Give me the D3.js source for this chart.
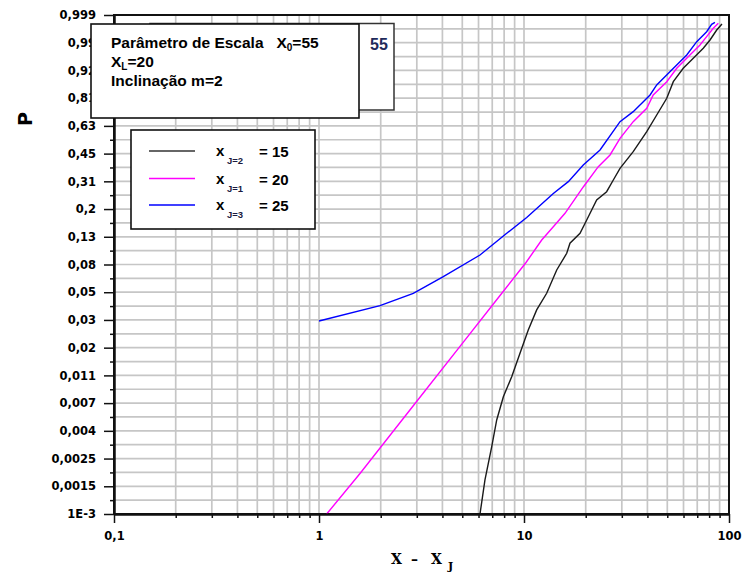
<!DOCTYPE html>
<html>
<head>
<meta charset="utf-8">
<script src="https://cdn.jsdelivr.net/npm/d3@7"></script>
<style>
  body { margin: 0; background: #fff; }
  svg { display: block; }
</style>
</head>
<body>
<svg id="chart" width="746" height="575"></svg>
<script>
// Weibull probability plot: P against (x − x_J), three shifts of the origin

// series: x_J = 15 (black)
const blackX = [6.10, 6.45, 6.96, 7.36, 7.93, 8.71, 9.56, 10.49, 11.53, 12.9, 14.44, 16.16, 16.76, 18.76, 20.23, 22.62, 25.3, 27.27, 29.4, 34.1, 39.7, 44.4, 49.7, 53.5, 59.8, 66.95, 74.9, 80.8, 87.1, 92.4];
const blackP = [0.001, 0.00183, 0.00329, 0.00528, 0.00796, 0.01133, 0.0171, 0.0257, 0.0365, 0.0487, 0.0727, 0.0964, 0.1141, 0.1346, 0.1671, 0.2295, 0.2607, 0.3103, 0.3669, 0.4585, 0.5828, 0.6911, 0.7938, 0.880, 0.9319, 0.9596, 0.97828, 0.98818, 0.99499, 0.99723];

// series: x_J = 20 (magenta)
const pinkX = [1.09, 1.585, 3.0, 5.06, 7.64, 10.23, 12.2, 13.9, 15.85, 19.46, 23.04, 26.28, 29.4, 34.1, 39.7, 42.7, 49.7, 55.6, 64.5, 72.2, 77.8, 83.8, 88.7];
const pinkP = [0.001, 0.00205, 0.00735, 0.0208, 0.0469, 0.0825, 0.1204, 0.1499, 0.1861, 0.2799, 0.3751, 0.4393, 0.5405, 0.648, 0.7337, 0.8126, 0.880, 0.9319, 0.9666, 0.9828, 0.99095, 0.99574, 0.99743];

// series: x_J = 25 (blue)
const blueX = [1.0, 1.984, 2.884, 4.04, 6.10, 7.93, 10.31, 13.9, 16.45, 19.46, 23.49, 29.4, 34.1, 41.2, 44.4, 51.5, 62.2, 69.6, 77.8, 82.3, 85.4];
const blueP = [0.0301, 0.0393, 0.0487, 0.0648, 0.0937, 0.1287, 0.174, 0.2537, 0.3028, 0.384, 0.4685, 0.648, 0.7124, 0.8126, 0.8647, 0.9204, 0.9666, 0.9865, 0.99414, 0.99715, 0.99769];

// axis ticks
const xTickValues = [0.1, 1, 10, 100];
const xTickLabels = ["0,1", "1", "10", "100"];
const pRange = [0.001, 0.999];
const pTickLabels = ["1E-3", "0,0015", "0,0025", "0,004", "0,007", "0,011", "0,02", "0,03", "0,05", "0,08",
                     "0,13", "0,2", "0,31", "0,45", "0,63", "0,81", "0,92", "0,99", "0,999"];

// legend entries
const legendNames = ["J=2", "J=1", "J=3"];
const legendValues = ["15", "20", "25"];
const legendColors = ["#333333", "#ff00ff", "#0000ff"];

// ------------------------------------------------------------------
const svg = d3.select("#chart");
const L = 114, R = 729, T = 15, B = 514;

// Weibull transform of the probability axis
const weib = p => Math.log(-Math.log(1 - p));

const x = d3.scaleLog().domain([0.1, 100]).range([L, R]);
const y = d3.scaleLinear().domain([weib(pRange[0]), weib(pRange[1])]).range([B, T]);

const nT = pTickLabels.length - 1;
const t0 = weib(pRange[0]), t1 = weib(pRange[1]);
const majorT = d3.range(nT + 1).map(k => t0 + (t1 - t0) * k / nT);
const minorT = d3.range(nT).map(k => t0 + (t1 - t0) * (k + 0.5) / nT);

const minorX = [];
[0.1, 1, 10].forEach(d => { for (let m = 2; m <= 9; m++) minorX.push(d * m); });

// grid
const grid = svg.append("g").attr("stroke", "#c6c6c6").attr("stroke-width", 1.7);
grid.selectAll("line.h").data(majorT.concat(minorT)).join("line")
  .attr("x1", L).attr("x2", R).attr("y1", d => y(d)).attr("y2", d => y(d));
grid.selectAll("line.v").data(minorX.concat([1, 10])).join("line")
  .attr("y1", T).attr("y2", B).attr("x1", d => x(d)).attr("x2", d => x(d));

// frame
svg.append("rect").attr("x", L).attr("y", T).attr("width", R - L).attr("height", B - T)
  .attr("fill", "none").attr("stroke", "#111").attr("stroke-width", 2);

// series
const clipId = "plotclip";
svg.append("clipPath").attr("id", clipId).append("rect")
  .attr("x", L).attr("y", T - 2).attr("width", R - L).attr("height", B - T + 2);

const line = d3.line().x(d => x(d[0])).y(d => y(weib(d[1])));
const series = [
  { xs: blackX, ps: blackP, color: "#1a1a1a" },
  { xs: pinkX, ps: pinkP, color: "#ff00ff" },
  { xs: blueX, ps: blueP, color: "#0000ff" }
];
svg.append("g").attr("clip-path", `url(#${clipId})`)
  .selectAll("path").data(series).join("path")
  .attr("d", s => line(d3.zip(s.xs, s.ps)))
  .attr("fill", "none").attr("stroke", s => s.color).attr("stroke-width", 1.4);

// axes
const tickFont = "'DejaVu Sans', sans-serif";
const yAxis = d3.axisLeft(y).tickValues(majorT).tickFormat((d, i) => pTickLabels[i])
  .tickSize(10).tickPadding(8).tickSizeOuter(0);
const yMinor = d3.axisLeft(y).tickValues(minorT).tickFormat("").tickSize(4).tickSizeOuter(0);
const xAxis = d3.axisBottom(x).tickValues(xTickValues).tickFormat((d, i) => xTickLabels[i])
  .tickSize(9).tickPadding(9).tickSizeOuter(0);
const xMinor = d3.axisBottom(x).tickValues(minorX).tickFormat("").tickSize(4).tickSizeOuter(0);

function styleAxis(g) {
  g.select(".domain").attr("stroke", "#111").attr("stroke-width", 2);
  g.selectAll(".tick line").attr("stroke", "#111").attr("stroke-width", 1.5);
  g.selectAll(".tick text").attr("fill", "#000").attr("font-family", tickFont)
    .attr("font-weight", "bold").attr("font-size", 11.5);
}
svg.append("g").attr("transform", `translate(${L},0)`).call(yMinor).call(styleAxis);
svg.append("g").attr("transform", `translate(${L},0)`).call(yAxis).call(styleAxis);
svg.append("g").attr("transform", `translate(0,${B})`).call(xMinor).call(styleAxis);
svg.append("g").attr("transform", `translate(0,${B})`).call(xAxis).call(styleAxis);

// axis titles
svg.append("text").attr("transform", "translate(32,119) rotate(-90)")
  .attr("text-anchor", "middle").attr("font-family", "'DejaVu Sans', sans-serif")
  .attr("font-weight", "bold").attr("font-size", 19).text("P");

const xt = svg.append("text").attr("y", 564).attr("font-family", "'DejaVu Serif', serif")
  .attr("font-weight", "bold").attr("font-size", 14).attr("fill", "#000");
xt.append("tspan").attr("x", 391).text("X");
xt.append("tspan").attr("x", 411).text("–");
xt.append("tspan").attr("x", 431).text("X");
xt.append("tspan").attr("x", 448).attr("dy", 6).attr("font-size", 11).text("J");

// parameter boxes
const boxFont = "'Liberation Sans', Arial, sans-serif";
svg.append("rect").attr("x", 150).attr("y", 23.5).attr("width", 244).attr("height", 86.5)
  .attr("fill", "#fff").attr("stroke", "#333").attr("stroke-width", 1.5);
svg.append("text").attr("x", 370).attr("y", 50).attr("font-family", boxFont)
  .attr("font-weight", "bold").attr("font-size", 16).attr("fill", "#1e2a5a").text("55");
svg.append("rect").attr("x", 91).attr("y", 24).attr("width", 268).attr("height", 94)
  .attr("fill", "#fff").attr("stroke", "#111").attr("stroke-width", 1.6);

const info = svg.append("g").attr("font-family", boxFont).attr("font-weight", "bold")
  .attr("font-size", 15.5).attr("fill", "#000");
const l1 = info.append("text").attr("x", 111).attr("y", 48);
l1.append("tspan").text("Parâmetro de Escala\u00a0\u00a0\u00a0X");
l1.append("tspan").attr("font-size", 10).attr("dy", 3).text("0");
l1.append("tspan").attr("dy", -3).text("=55");
const l2 = info.append("text").attr("x", 111).attr("y", 66.5);
l2.append("tspan").text("X");
l2.append("tspan").attr("font-size", 10).attr("dy", 3).text("L");
l2.append("tspan").attr("dy", -3).text("=20");
info.append("text").attr("x", 111).attr("y", 86).text("Inclinação m=2");

// legend
svg.append("rect").attr("x", 131).attr("y", 130).attr("width", 184).attr("height", 99)
  .attr("fill", "#fff").attr("stroke", "#111").attr("stroke-width", 1.6);
const legY = [151, 178.5, 205];
const leg = svg.append("g").selectAll("g").data(legendNames).join("g")
  .attr("transform", (d, i) => `translate(0,${legY[i]})`);
leg.append("line").attr("x1", 149).attr("x2", 195).attr("y1", 0).attr("y2", 0)
  .attr("stroke", (d, i) => legendColors[i]).attr("stroke-width", 1.6);
leg.append("text").attr("x", 216).attr("y", 5).attr("font-family", boxFont)
  .attr("font-weight", "bold").attr("font-size", 15).text("x");
leg.append("text").attr("x", 227).attr("y", 13).attr("font-family", boxFont)
  .attr("font-weight", "bold").attr("font-size", 9.5).attr("fill", "#1a1a40").text(d => d);
leg.append("text").attr("x", 259).attr("y", 6).attr("font-family", boxFont)
  .attr("font-weight", "bold").attr("font-size", 15).text((d, i) => "=\u00a0" + legendValues[i]);
</script>
</body>
</html>
